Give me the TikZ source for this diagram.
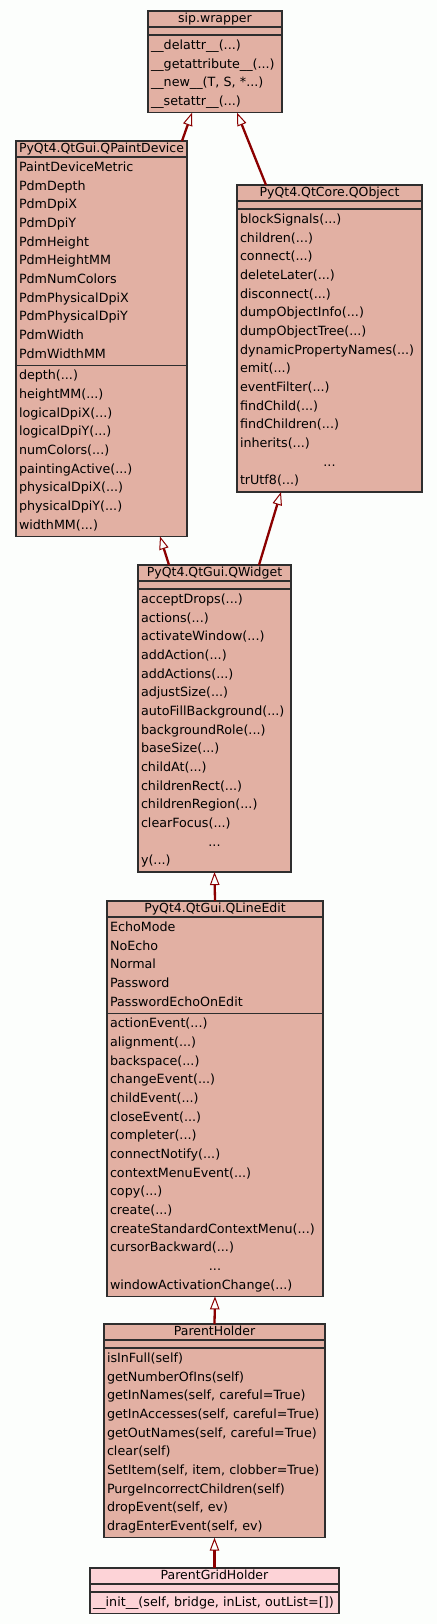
\documentclass[tikz,border=0pt]{standalone}
\usepackage{fontspec}
\setmainfont{DejaVu Sans}
\usetikzlibrary{positioning,arrows.meta}

\definecolor{classfill}{HTML}{E2B0A3}
\definecolor{leaffill}{HTML}{FDD3D7}
\definecolor{classline}{HTML}{2E2E2E}
\definecolor{inheritred}{HTML}{8B0000}
\definecolor{bgwhite}{HTML}{FCFEFC}

\newcommand\itemfont{\fontsize{12.7}{18.67}\selectfont}
\newcommand\headfont{\fontsize{12.5}{14}\selectfont}
\newcommand\skipped{\makebox[\linewidth]{...}}

\begin{document}
\begin{tikzpicture}[
	x=1pt, y=-1pt,
	classhead/.style={draw=classline, fill=classfill, line width=1.2pt, outer sep=0pt, inner sep=0pt, minimum height=16pt, minimum width=#1, text height=9.3pt, text depth=2.7pt, font=\headfont, anchor=north},
	classempty/.style={draw=classline, fill=classfill, line width=1.2pt, outer sep=0pt, inner sep=0pt, minimum height=8pt, minimum width=#1},
	classbody/.style={draw=classline, fill=classfill, line width=1.2pt, outer sep=0pt, inner xsep=3pt, inner ysep=1.5pt, text width=#1, align=left, font=\itemfont, execute at begin node=\strut, execute at end node=\strut},
	inherit/.style={draw=inheritred, line width=2.3pt, -{Triangle[open, length=13pt, width=9.5pt, line width=1pt]}},
	]
	\useasboundingbox (0,0) rectangle (437,1624);
	\fill[bgwhite] (0,0) rectangle (437,1624);
	
	%Classes
	\node[classhead=134pt]  (sip)     at (215,11)          {sip.wrapper};
	\node[classempty=134pt] (sip-a)   [below=0pt of sip]   {};
	\node[classbody=128pt]  (sip-m)   [below=0pt of sip-a] {\_\_delattr\_\_(...)\\ \_\_getattribute\_\_(...)\\ \_\_new\_\_(T, S, *...)\\ \_\_setattr\_\_(...)};
	
	\node[classhead=171pt]  (paint)   at (101.5,141)         {PyQt4.QtGui.QPaintDevice};
	\node[classbody=165pt]  (paint-a) [below=0pt of paint]   {PaintDeviceMetric\\ PdmDepth\\ PdmDpiX\\ PdmDpiY\\ PdmHeight\\ PdmHeightMM\\ PdmNumColors\\ PdmPhysicalDpiX\\ PdmPhysicalDpiY\\ PdmWidth\\ PdmWidthMM};
	\node[classbody=165pt]  (paint-m) [below=0pt of paint-a] {depth(...)\\ heightMM(...)\\ logicalDpiX(...)\\ logicalDpiY(...)\\ numColors(...)\\ paintingActive(...)\\ physicalDpiX(...)\\ physicalDpiY(...)\\ widthMM(...)};
	
	\node[classhead=185pt]  (qobj)    at (329.5,185)        {PyQt4.QtCore.QObject};
	\node[classempty=185pt] (qobj-a)  [below=0pt of qobj]   {};
	\node[classbody=179pt]  (qobj-m)  [below=0pt of qobj-a] {blockSignals(...)\\ children(...)\\ connect(...)\\ deleteLater(...)\\ disconnect(...)\\ dumpObjectInfo(...)\\ dumpObjectTree(...)\\ dynamicPropertyNames(...)\\ emit(...)\\ eventFilter(...)\\ findChild(...)\\ findChildren(...)\\ inherits(...)\\ \skipped\\ trUtf8(...)};
	
	\node[classhead=153pt]  (qwid)    at (214.5,565)        {PyQt4.QtGui.QWidget};
	\node[classempty=153pt] (qwid-a)  [below=0pt of qwid]   {};
	\node[classbody=147pt]  (qwid-m)  [below=0pt of qwid-a] {acceptDrops(...)\\ actions(...)\\ activateWindow(...)\\ addAction(...)\\ addActions(...)\\ adjustSize(...)\\ autoFillBackground(...)\\ backgroundRole(...)\\ baseSize(...)\\ childAt(...)\\ childrenRect(...)\\ childrenRegion(...)\\ clearFocus(...)\\ \skipped\\ y(...)};
	
	\node[classhead=216pt]  (qline)   at (215,901)           {PyQt4.QtGui.QLineEdit};
	\node[classbody=210pt]  (qline-a) [below=0pt of qline]   {EchoMode\\ NoEcho\\ Normal\\ Password\\ PasswordEchoOnEdit};
	\node[classbody=210pt]  (qline-m) [below=0pt of qline-a] {actionEvent(...)\\ alignment(...)\\ backspace(...)\\ changeEvent(...)\\ childEvent(...)\\ closeEvent(...)\\ completer(...)\\ connectNotify(...)\\ contextMenuEvent(...)\\ copy(...)\\ create(...)\\ createStandardContextMenu(...)\\ cursorBackward(...)\\ \skipped\\ windowActivationChange(...)};
	
	\node[classhead=221pt]  (holder)   at (214.5,1324)         {ParentHolder};
	\node[classempty=221pt] (holder-a) [below=0pt of holder]   {};
	\node[classbody=215pt]  (holder-m) [below=0pt of holder-a] {isInFull(self)\\ getNumberOfIns(self)\\ getInNames(self,~careful=True)\\ getInAccesses(self,~careful=True)\\ getOutNames(self,~careful=True)\\ clear(self)\\ SetItem(self,~item,~clobber=True)\\ PurgeIncorrectChildren(self)\\ dropEvent(self,~ev)\\ dragEnterEvent(self,~ev)};
	
	\node[classhead=249pt, fill=leaffill]  (grid)   at (214.5,1568)       {ParentGridHolder};
	\node[classempty=249pt, fill=leaffill] (grid-a) [below=0pt of grid]   {};
	\node[classbody=243pt, fill=leaffill]  (grid-m) [below=0pt of grid-a] {\_\_init\_\_(self,~bridge,~inList,~outList=[])};
	
	%Inheritance
	\draw[inherit] ([xshift=80.5pt]paint.north) -- ([xshift=-23pt]sip-m.south);
	\draw[inherit] ([xshift=-63.5pt]qobj.north) -- ([xshift=22pt]sip-m.south);
	\draw[inherit] ([xshift=-45.5pt]qwid.north) -- ([xshift=58.5pt]paint-m.south);
	\draw[inherit] ([xshift=44.5pt]qwid.north) -- ([xshift=-48.5pt]qobj-m.south);
	\draw[inherit] (qline.north) -- (qwid-m.south);
	\draw[inherit] (holder.north) -- (qline-m.south);
	\draw[inherit] (grid.north) -- (holder-m.south);
\end{tikzpicture}
\end{document}
